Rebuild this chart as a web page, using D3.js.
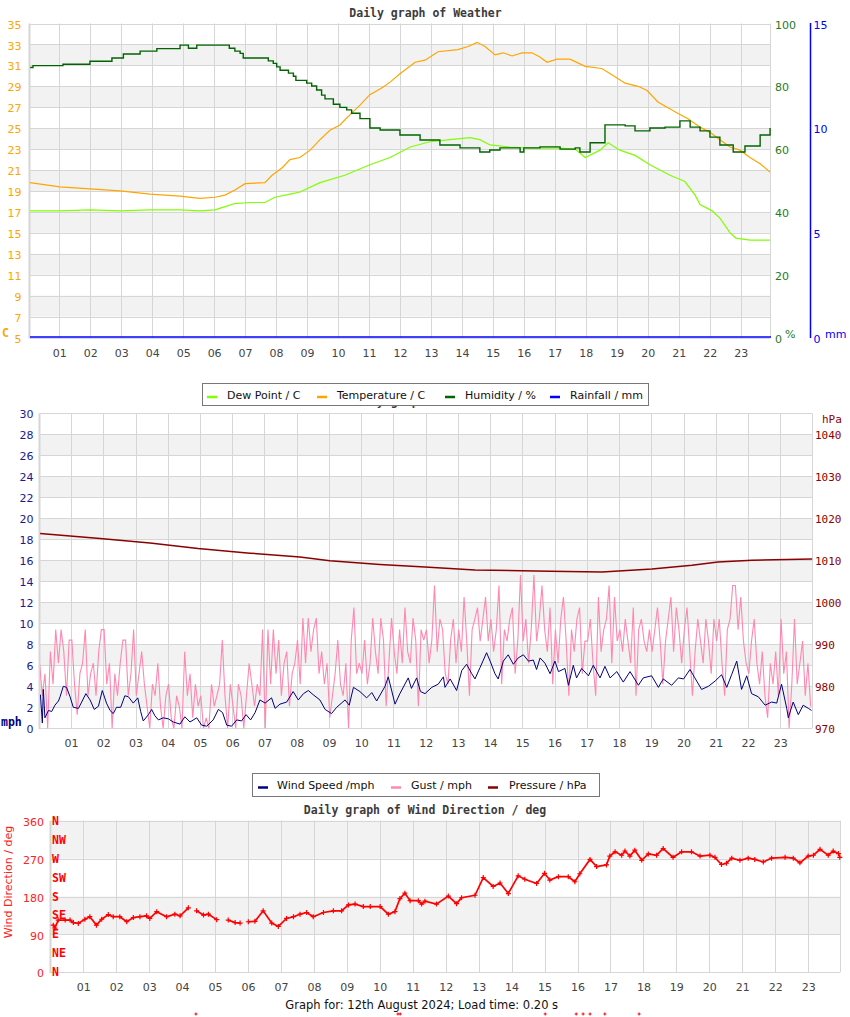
<!DOCTYPE html>
<html><head><meta charset="utf-8">
<script src="https://cdn.jsdelivr.net/npm/d3@7"></script>
<style>body{margin:0;background:#fff} svg{display:block}</style>
</head><body>
<svg id="c" width="850" height="1017"></svg>
<script>
// ---------------- DATA ----------------
const hourTicks = [1,2,3,4,5,6,7,8,9,10,11,12,13,14,15,16,17,18,19,20,21,22,23];
const hourLabels = ["01","02","03","04","05","06","07","08","09","10","11","12","13","14","15","16","17","18","19","20","21","22","23"];

const tempTicks = [5,7,9,11,13,15,17,19,21,23,25,27,29,31,33,35];
const humTicks = [0,20,40,60,80,100];
const rainTicks = [0,5,10,15];
const windTicks = [0,2,4,6,8,10,12,14,16,18,20,22,24,26,28,30];
const pressTicks = [970,980,990,1000,1010,1020,1030,1040];
const dirTicks = [0,90,180,270,360];
const compassLabels = ["N","NE","E","SE","S","SW","W","NW","N"];
const compassValues = [0,45,90,135,180,225,270,315,360];

const tempHours = [0.05,1.02,1.99,2.96,3.93,4.90,5.54,6.03,6.35,6.67,7.00,7.64,7.87,8.19,8.45,8.77,9.10,9.42,9.74,10.06,10.39,10.71,11.03,11.45,11.68,12.00,12.49,12.81,13.23,13.87,14.20,14.49,14.75,15.07,15.33,15.62,15.94,16.26,16.52,16.75,17.07,17.49,17.98,18.52,19.01,19.27,19.69,19.98,20.33,20.98,21.30,21.69,22.01,22.33,22.66,22.98,23.30,23.63,23.95];
const tempValues = [19.8,19.4,19.2,19.0,18.7,18.5,18.3,18.4,18.6,19.1,19.7,19.8,20.5,21.2,22.0,22.2,22.9,23.9,24.8,25.3,26.3,27.2,28.2,28.9,29.4,30.2,31.3,31.5,32.3,32.5,32.8,33.2,32.8,32.0,32.2,31.9,32.2,32.2,31.8,31.3,31.6,31.6,30.9,30.7,29.8,29.3,29.0,28.6,27.5,26.4,25.9,25.1,24.6,23.9,23.2,22.9,22.2,21.6,20.8];

const humHours = [0.06,0.15,1.12,1.99,2.70,3.07,3.61,4.15,4.90,5.17,5.44,6.49,6.67,6.84,6.94,7.75,7.91,8.02,8.13,8.40,8.56,8.64,8.99,9.15,9.31,9.47,9.58,9.85,10.06,10.28,10.44,10.71,11.03,11.36,12.00,12.65,13.29,13.94,14.58,14.90,15.23,15.88,16.00,16.52,17.17,17.66,17.81,18.14,18.62,19.27,19.59,20.07,20.56,21.04,21.37,21.69,22.01,22.33,22.76,23.14,23.63,23.95];
const humValues = [86.0,86.6,87.0,88.0,89.0,90.3,91.2,92.0,93.1,92.1,93.1,92.1,91.2,90.5,89.0,88.1,87.3,86.2,85.1,84.2,83.2,81.9,81.0,80.1,78.8,77.2,76.0,74.3,73.3,72.5,71.4,69.7,66.7,66.1,64.5,62.9,61.3,60.4,59.1,59.7,60.4,59.1,60.4,60.7,60.0,60.4,59.1,62.0,67.7,67.4,65.8,66.7,67.0,69.0,67.0,65.8,63.8,61.3,59.1,61.0,64.5,66.7];

const dewHours = [0.05,1.02,1.99,2.96,3.93,4.90,5.54,6.03,6.35,6.67,7.15,7.64,7.96,8.45,8.77,9.42,10.22,11.03,11.68,12.33,12.97,13.62,14.26,14.58,14.91,15.55,16.20,17.17,17.66,17.98,18.46,18.72,19.10,19.59,20.07,20.72,21.20,21.53,21.69,22.08,22.33,22.66,22.85,23.30,23.95];
const dewValues = [17.1,17.1,17.2,17.1,17.2,17.2,17.1,17.2,17.5,17.8,17.9,17.9,18.4,18.7,18.9,19.8,20.5,21.5,22.2,23.2,23.7,23.9,24.1,23.9,23.4,23.2,23.1,23.1,23.0,22.2,22.9,23.6,22.9,22.4,21.5,20.5,19.9,18.6,17.7,17.1,16.4,15.0,14.5,14.3,14.3];

const rainHours = [0, 24];
const rainValues = [0, 0];

const windHours = [0.05,0.11,0.14,0.19,0.30,0.40,0.50,0.61,0.66,0.76,0.86,0.97,1.07,1.23,1.33,1.46,1.59,1.72,1.85,1.97,2.10,2.21,2.31,2.41,2.54,2.67,2.78,2.93,3.07,3.16,3.24,3.40,3.50,3.60,3.71,3.86,4.02,4.17,4.38,4.53,4.69,4.90,5.05,5.21,5.41,5.57,5.70,5.83,5.98,6.14,6.29,6.43,6.57,6.71,6.86,7.02,7.22,7.33,7.48,7.69,7.89,8.05,8.21,8.36,8.51,8.72,8.88,9.08,9.24,9.50,9.63,9.76,9.96,10.17,10.33,10.48,10.74,10.84,11.05,11.20,11.46,11.56,11.72,11.84,11.98,12.19,12.39,12.55,12.60,12.76,12.96,13.12,13.27,13.43,13.53,13.69,13.89,14.00,14.15,14.25,14.41,14.56,14.72,14.87,15.03,15.19,15.34,15.44,15.55,15.70,15.86,16.01,16.12,16.32,16.43,16.58,16.68,16.84,17.05,17.20,17.41,17.56,17.72,17.93,18.13,18.34,18.60,18.75,19.01,19.22,19.37,19.63,19.84,20.00,20.20,20.35,20.56,20.77,20.98,21.18,21.34,21.49,21.65,21.80,21.96,22.11,22.32,22.53,22.73,22.89,23.04,23.20,23.25,23.40,23.56,23.71,23.87,23.97];
const windValues = [3.2,0.5,3.7,1.0,1.7,1.6,2.2,2.6,3.0,4.0,3.9,3.0,2.0,1.9,2.5,3.3,2.7,1.8,2.1,3.6,2.4,1.7,1.4,2.0,2.0,3.1,3.0,2.4,2.9,1.6,0.7,1.3,1.8,1.2,0.8,1.0,0.9,0.6,0.4,1.1,0.6,1.0,0.3,0.2,0.8,1.8,1.5,0.3,0.2,0.8,0.7,1.3,0.8,1.5,2.7,2.4,2.9,1.9,2.3,2.5,3.5,2.7,3.3,3.6,3.2,2.7,1.8,1.4,2.0,2.7,2.2,3.9,3.5,2.9,3.4,2.6,4.0,4.9,2.3,3.3,4.8,3.8,4.8,3.5,3.3,3.9,4.2,4.9,3.9,4.7,3.6,5.5,6.1,5.2,4.7,5.8,7.2,6.4,5.2,4.7,6.4,7.0,6.1,6.7,7.0,6.4,6.5,5.6,6.7,6.2,5.2,6.4,5.4,5.7,4.1,6.0,4.8,5.7,5.0,6.0,4.8,5.9,4.8,5.4,4.4,5.4,4.1,4.8,5.0,3.9,4.7,4.1,4.8,4.7,5.6,4.8,3.7,4.0,4.5,5.1,3.9,5.1,6.4,3.7,5.0,3.3,3.0,2.2,2.5,2.4,4.2,1.9,1.0,2.5,1.3,2.2,1.9,1.7];

// gust, 12 readings per hour (every 5 min), hour by hour
const gustByHour = [
 [6.2,3.1,5.2,0,7.3,4.2,9.4,6.2,9.4,7.3,3.1,8.4],
 [8.4,4.2,1.3,5.2,6.2,9.4,3.1,5.2,6.2,3.1,7.3,9.4],
 [9.4,4.2,6.2,0,5.2,3.1,6.2,8.4,8.4,3.1,5.2,9.4],
 [3.1,5.2,7.3,4.2,2.1,0,4.2,3.1,6.2,2.1,0,3.1],
 [4.2,1.0,0,3.1,2.1,0,7.3,3.1,5.2,1.0,4.2,2.1],
 [3.1,0,1.0,0,4.2,2.1,3.1,4.2,8.4,3.1,0,4.2],
 [2.1,0,4.2,3.1,0,3.1,6.2,4.2,2.1,4.2,3.1,9.4],
 [0,9.4,4.2,9.4,5.2,8.4,3.1,6.2,7.3,2.1,5.2,6.2],
 [8.4,4.2,10.5,6.2,10.5,7.3,9.4,10.5,5.2,7.3,4.2,6.2],
 [1.0,3.1,5.2,8.4,4.2,3.1,6.2,0,8.4,11.5,5.2,6.2],
 [5.2,8.4,4.2,6.2,10.5,7.3,5.2,10.5,8.4,2.1,6.2,10.5],
 [7.3,5.2,9.4,6.2,11.5,7.3,6.2,10.5,8.4,2.1,9.4,8.4],
 [9.4,6.2,8.4,13.6,7.3,10.4,9.4,5.2,4.2,8.4,10.4,6.2],
 [9.4,7.3,12.5,8.3,3.1,9.4,10.4,11.5,8.3,10.4,12.5,8.3],
 [10.4,7.3,9.4,13.6,4.2,9.4,8.3,10.4,11.5,5.2,8.3,14.6],
 [8.3,10.4,6.2,9.4,14.6,8.3,10.4,13.6,9.4,7.3,11.5,4.2],
 [9.4,6.2,10.4,12.5,8.3,3.1,9.4,7.3,10.4,11.5,5.2,8.3],
 [8.3,10.4,6.2,3.1,12.5,7.3,9.4,10.4,13.6,6.2,12.5,8.3],
 [9.4,7.3,10.4,8.3,6.2,11.5,3.1,9.4,10.4,8.3,7.3,9.4],
 [7.3,9.4,11.5,8.3,4.2,8.3,10.4,12.5,7.3,11.5,9.4,6.2],
 [9.4,11.5,7.3,3.1,7.3,10.4,8.3,6.2,10.4,8.3,5.2,10.4],
 [8.3,10.4,6.2,3.1,9.4,10.4,13.6,13.6,9.4,12.5,8.3,6.2],
 [5.2,8.3,10.4,6.2,4.2,7.3,3.1,1.0,6.2,4.2,7.3,3.1],
 [10.4,5.2,7.3,0,4.2,10.4,4.2,6.2,8.3,3.1,6.2,2.1]
];

const pressHours = [0.04,1.90,3.45,4.94,6.55,8.10,9.03,10.58,11.98,13.53,15.86,17.47,19.02,20.26,21.07,22.12,23.99];
const pressValues = [1016.4,1015.2,1014.1,1012.8,1011.7,1010.8,1009.9,1009.0,1008.4,1007.7,1007.4,1007.2,1007.9,1008.8,1009.6,1010.0,1010.3];

const dirHours = [0.09,0.14,0.24,0.45,0.60,0.70,0.85,1.05,1.20,1.40,1.56,1.76,1.91,2.11,2.32,2.52,2.72,2.92,3.02,3.23,3.53,3.78,3.94,4.19,4.30,4.44,4.65,4.80,5.05,5.20,5.40,5.61,5.76,5.88,6.01,6.21,6.46,6.72,6.92,7.17,7.38,7.58,7.78,7.98,8.29,8.59,8.84,9.05,9.25,9.50,9.71,10.01,10.26,10.46,10.61,10.76,10.92,11.17,11.27,11.37,11.72,12.08,12.33,12.48,12.89,13.14,13.44,13.65,13.90,14.20,14.40,14.76,15.00,15.16,15.42,15.72,15.92,16.07,16.38,16.58,16.88,16.98,17.14,17.34,17.44,17.59,17.74,17.95,18.15,18.40,18.60,18.90,19.16,19.46,19.72,20.02,20.17,20.37,20.52,20.68,20.93,21.18,21.38,21.64,21.89,22.30,22.55,22.75,23.00,23.16,23.36,23.61,23.76,23.92,23.96];
const dirValues = [112,105,124,124,124,118,116,126,132,112,126,137,132,132,120,130,132,134,128,144,132,138,134,153,null,146,136,138,125,null,124,118,117,null,120,121,146,117,109,128,132,138,142,132,142,146,146,160,162,156,156,156,138,144,175,188,170,170,162,169,162,181,163,177,183,225,204,212,187,229,221,211,235,219,227,227,215,234,268,251,255,276,286,278,288,276,290,266,281,278,294,273,286,286,276,278,273,256,259,271,266,271,268,262,271,273,271,260,276,278,292,278,288,282,273];
const dirMissingHours = [4.42,10.55,10.62,15.02,15.96,16.17,16.38,16.83,17.87];
const dirMissingValue = -99;

// ---------------- DRAWING ----------------
const svg = d3.select("#c");
const SANS = "'DejaVu Sans', sans-serif";
const MONO = "'DejaVu Sans Mono', monospace";
const GRID = "#d6d6d6", BAND = "#f2f2f2";

function zip(h, v) { return h.map((d, i) => ({h: d, v: v[i]})); }

function panel(x, left, right, y, ticks, bandPairs) {
  const g = svg.append("g");
  const top = y.range()[1], bottom = y.range()[0];
  bandPairs.forEach(([a, b]) => {
    g.append("rect").attr("x", left).attr("width", right - left)
      .attr("y", y(b)).attr("height", y(a) - y(b)).attr("fill", BAND);
  });
  ticks.forEach(t => {
    const yy = Math.round(y(t)) + 0.5;
    g.append("line").attr("x1", left).attr("x2", right).attr("y1", yy).attr("y2", yy)
      .attr("stroke", GRID).attr("stroke-width", 1);
  });
  hourTicks.forEach(t => {
    const xx = Math.round(x(t)) + 0.5;
    g.append("line").attr("x1", xx).attr("x2", xx).attr("y1", top).attr("y2", bottom)
      .attr("stroke", GRID).attr("stroke-width", 1);
  });
  g.append("line").attr("x1", left - 0.5).attr("x2", left - 0.5).attr("y1", top).attr("y2", bottom + 1)
    .attr("stroke", GRID).attr("stroke-width", 2);
  g.append("line").attr("x1", right + 0.5).attr("x2", right + 0.5).attr("y1", top).attr("y2", bottom)
    .attr("stroke", GRID).attr("stroke-width", 1);
  return g;
}

function xAxisLabels(x, yPos) {
  const ax = d3.axisBottom(x).tickValues(hourTicks).tickFormat((d, i) => hourLabels[i]).tickSize(0).tickPadding(0);
  const g = svg.append("g").attr("transform", `translate(0,${yPos})`).call(ax);
  g.select(".domain").remove();
  g.selectAll("text").attr("font-family", SANS).attr("font-size", 11).attr("fill", "#444").attr("dy", 0);
}

function yAxisLabels(y, ticks, xPos, side, color, fmt, font) {
  const ax = (side === "left" ? d3.axisLeft(y) : d3.axisRight(y)).tickValues(ticks).tickSize(0).tickPadding(0).tickFormat(fmt || (d => d));
  const g = svg.append("g").attr("transform", `translate(${xPos},0)`).call(ax);
  g.select(".domain").remove();
  g.selectAll("text").attr("font-family", font || SANS).attr("font-size", 11).attr("fill", color).attr("dy", "0.42em");
  return g;
}

function title(text, cx, baseline, clip) {
  const t = svg.append("text").attr("x", cx).attr("y", baseline).attr("text-anchor", "middle")
    .attr("font-family", MONO).attr("font-weight", "bold").attr("font-size", 11.5).attr("fill", "#3c3c3c").text(text);
  if (clip) t.attr("clip-path", clip);
}

function legend(x0, y0, w, h, items) {
  svg.append("rect").attr("x", x0 + 0.5).attr("y", y0 + 0.5).attr("width", w).attr("height", h)
    .attr("fill", "#fff").attr("stroke", "#777");
  items.forEach(it => {
    svg.append("line").attr("x1", it.sx).attr("x2", it.sx + 10).attr("y1", y0 + h / 2 + 3).attr("y2", y0 + h / 2 + 3)
      .attr("stroke", it.color).attr("stroke-width", 2.5);
    svg.append("text").attr("x", it.tx).attr("y", y0 + h / 2 + 4.5).attr("font-family", SANS).attr("font-size", 11)
      .attr("fill", "#111").text(it.label);
  });
}

svg.append("defs").html(
  '<clipPath id="cp1"><rect x="30" y="20" width="741" height="320"/></clipPath>' +
  '<clipPath id="cp2"><rect x="40" y="410" width="773" height="320"/></clipPath>' +
  '<clipPath id="cpt"><rect x="0" y="406" width="850" height="6"/></clipPath>');

// ===== Chart 1: Weather =====
title("Daily graph of Weather", 425.5, 17);
const x1 = d3.scaleLinear().domain([0, 24]).range([28.3, 771.6]);
const yT = d3.scaleLinear().domain([5, 35]).range([337.5, 23.5]);
const yH = d3.scaleLinear().domain([0, 100]).range([337.5, 23.5]);
const yR = d3.scaleLinear().domain([0, 15]).range([337.5, 23.5]);
panel(x1, 30, 770, yT, tempTicks, [[7,9],[11,13],[15,17],[19,21],[23,25],[27,29],[31,33]]);

const g1 = svg.append("g").attr("clip-path", "url(#cp1)");
g1.append("path").datum(zip(rainHours, rainValues))
  .attr("d", d3.line().x(d => x1(d.h)).y(d => yR(d.v) - 0.5))
  .attr("fill", "none").attr("stroke", "#0000ff").attr("stroke-width", 1.5);
g1.append("path").datum(zip(tempHours, tempValues))
  .attr("d", d3.line().x(d => x1(d.h)).y(d => yT(d.v)))
  .attr("fill", "none").attr("stroke", "#ffa500").attr("stroke-width", 1.2);
g1.append("path").datum(zip(dewHours, dewValues))
  .attr("d", d3.line().x(d => x1(d.h)).y(d => yT(d.v)))
  .attr("fill", "none").attr("stroke", "#7fff00").attr("stroke-width", 1.2);
g1.append("path").datum(zip(humHours, humValues))
  .attr("d", d3.line().curve(d3.curveStepAfter).x(d => x1(d.h)).y(d => yH(d.v)))
  .attr("fill", "none").attr("stroke", "#006400").attr("stroke-width", 1.4);

yAxisLabels(yT, tempTicks, 21.5, "left", "#ffa500");
yAxisLabels(yH, humTicks, 775, "right", "#1f7a1f");
yAxisLabels(yR, rainTicks, 813.5, "right", "#0000ff");
svg.append("line").attr("x1", 810.5).attr("x2", 810.5).attr("y1", 23).attr("y2", 338).attr("stroke", "#0000ff").attr("stroke-width", 1.5);
svg.append("text").attr("x", 2).attr("y", 337).attr("font-family", MONO).attr("font-weight", "bold").attr("font-size", 11.5).attr("fill", "#ffa500").text("C");
svg.append("text").attr("x", 785).attr("y", 338).attr("font-family", SANS).attr("font-size", 11).attr("fill", "#1f7a1f").text("%");
svg.append("text").attr("x", 825).attr("y", 338).attr("font-family", SANS).attr("font-size", 11).attr("fill", "#0000ff").text("mm");
xAxisLabels(x1, 357);

// ===== Chart 2: Wind =====
title("Daily graph of Weather", 425.5, 404.5, "url(#cpt)");
legend(202, 383, 446, 22, [
  {sx: 207, tx: 227, color: "#7fff00", label: "Dew Point / C"},
  {sx: 317, tx: 337, color: "#ffa500", label: "Temperature / C"},
  {sx: 445, tx: 465, color: "#006400", label: "Humidity / %"},
  {sx: 550, tx: 570, color: "#0000ff", label: "Rainfall / mm"}
]);

const x2 = d3.scaleLinear().domain([0, 24]).range([38.8, 812.5]);
const yW = d3.scaleLinear().domain([0, 30]).range([728.3, 413.3]);
const yP = d3.scaleLinear().domain([970, 1045]).range([728.3, 413.3]);
panel(x2, 40, 812, yW, windTicks, [[2,4],[6,8],[10,12],[14,16],[18,20],[22,24],[26,28]]);

const gustData = [];
gustByHour.forEach((row, hr) => row.forEach((v, k) => gustData.push({h: hr + (k + 0.3) / row.length, v})));

const g2 = svg.append("g").attr("clip-path", "url(#cp2)");
g2.append("path").datum(gustData)
  .attr("d", d3.line().x(d => x2(d.h)).y(d => yW(d.v)))
  .attr("fill", "none").attr("stroke", "#ff88b0").attr("stroke-width", 1.1);
g2.append("path").datum(zip(windHours, windValues))
  .attr("d", d3.line().x(d => x2(d.h)).y(d => yW(d.v)))
  .attr("fill", "none").attr("stroke", "#000080").attr("stroke-width", 1);
g2.append("path").datum(zip(pressHours, pressValues))
  .attr("d", d3.line().x(d => x2(d.h)).y(d => yP(d.v)))
  .attr("fill", "none").attr("stroke", "#8b0000").attr("stroke-width", 1.5);

yAxisLabels(yW, windTicks, 33.5, "left", "#1a1a8c");
yAxisLabels(yP, pressTicks, 815, "right", "#8b0000", null, MONO);
svg.append("text").attr("x", 822).attr("y", 423).attr("font-family", MONO).attr("font-size", 11).attr("fill", "#8b0000").text("hPa");
svg.append("text").attr("x", 1).attr("y", 726).attr("font-family", MONO).attr("font-weight", "bold").attr("font-size", 11.5).attr("fill", "#000080").text("mph");
xAxisLabels(x2, 747);

legend(252, 773, 347, 23, [
  {sx: 258, tx: 277, color: "#000080", label: "Wind Speed /mph"},
  {sx: 391, tx: 411, color: "#ff88b0", label: "Gust / mph"},
  {sx: 488, tx: 509, color: "#8b0000", label: "Pressure / hPa"}
]);

// ===== Chart 3: Wind direction =====
title("Daily graph of Wind Direction / deg", 425, 814);
const x3 = d3.scaleLinear().domain([0, 24]).range([50.3, 841.1]);
const yD = d3.scaleLinear().domain([0, 360]).range([972.3, 820.7]);
panel(x3, 51, 840, yD, dirTicks, [[90,180],[270,360]]);

yAxisLabels(yD, dirTicks, 44, "left", "#ff2020");
svg.append("text").attr("transform", "translate(12,882) rotate(-90)").attr("text-anchor", "middle")
  .attr("font-family", SANS).attr("font-size", 11).attr("fill", "#ff2020").text("Wind Direction / deg");
compassLabels.forEach((c, i) => {
  svg.append("text").attr("x", 52).attr("y", yD(compassValues[i]) + 4).attr("font-family", MONO)
    .attr("font-weight", "bold").attr("font-size", 11.5).attr("fill", "#ff0000").text(c);
});

const dirData = zip(dirHours, dirValues);
svg.append("path").datum(dirData)
  .attr("d", d3.line().defined(d => d.v !== null).x(d => x3(d.h)).y(d => yD(d.v)))
  .attr("fill", "none").attr("stroke", "#ff0000").attr("stroke-width", 1.7);
const plus = "M-2.5,0H2.5M0,-2.5V2.5";
svg.append("g").selectAll("path").data(dirData.filter(d => d.v !== null)).join("path")
  .attr("transform", d => `translate(${x3(d.h)},${yD(d.v)})`).attr("d", plus)
  .attr("stroke", "#ff0000").attr("stroke-width", 1.2);
svg.append("g").selectAll("path").data(dirMissingHours).join("path")
  .attr("transform", d => `translate(${x3(d)},${yD(dirMissingValue)})`).attr("d", "M-1.5,0H1.5M0,-1.5V1.5")
  .attr("stroke", "#ff0000").attr("stroke-width", 1);

xAxisLabels(x3, 991);

svg.append("text").attr("x", 421.7).attr("y", 1009).attr("text-anchor", "middle")
  .attr("font-family", SANS).attr("font-size", 11.5).attr("fill", "#111")
  .text("Graph for: 12th August 2024; Load time: 0.20 s");
</script>
</body></html>
